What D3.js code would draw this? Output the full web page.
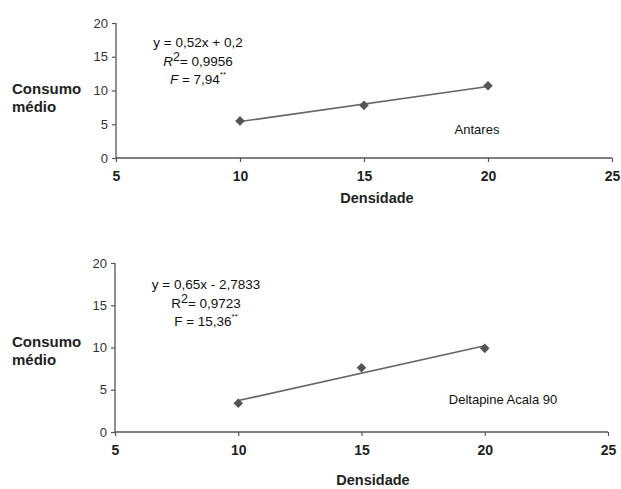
<!DOCTYPE html>
<html>
<head>
<meta charset="utf-8">
<script src="https://cdn.jsdelivr.net/npm/d3@7"></script>
<style>
  html, body { margin: 0; padding: 0; background: #fff; }
  svg { display: block; }
  text { font-family: "Liberation Sans", Arial, sans-serif; }
</style>
</head>
<body>
<svg id="chart" width="621" height="489"></svg>
<script>
// Plant density (x) and mean consumption (y) for the two cultivars
const densidade = [10, 15, 20];
const consumoAntares = [5.5, 7.8, 10.7];
const consumoDeltapine = [3.4, 7.6, 9.9];

// Fitted linear regressions: y = a*x + b
const slopes = [0.52, 0.65];
const intercepts = [0.2, -2.7833];
const r2Labels = ["0,9956", "0,9723"];
const fLabels = ["7,94", "15,36"];
const eqLabels = ["y = 0,52x + 0,2", "y = 0,65x - 2,7833"];
const cultivars = ["Antares", "Deltapine Acala 90"];

const xTicks = [5, 10, 15, 20, 25];
const yTicks = [0, 5, 10, 15, 20];

const svg = d3.select("#chart");
const axisColor = "#555";
const markColor = "#555";

const panels = [
  { values: consumoAntares, left: 116, right: 612, top: 23, bottom: 158,
    eqX: 198, eqY: 47, italic: true,
    labelX: 477, labelY: 134, titleY: 94, densY: 203, densX: 377 },
  { values: consumoDeltapine, left: 115, right: 608, top: 263, bottom: 432,
    eqX: 206, eqY: 289, italic: false,
    labelX: 503, labelY: 404, titleY: 347, densY: 485, densX: 373 }
];

panels.forEach((p, i) => {
  const x = d3.scaleLinear().domain([5, 25]).range([p.left, p.right]);
  const y = d3.scaleLinear().domain([0, 20]).range([p.bottom, p.top]);
  const g = svg.append("g");

  // y axis
  const yAxis = g.append("g")
    .attr("transform", `translate(${p.left},0)`)
    .call(d3.axisLeft(y).tickValues(yTicks).tickSize(4).tickPadding(4).tickFormat(d3.format("d")));
  yAxis.select(".domain").attr("stroke", axisColor).attr("stroke-width", 1.3)
    .attr("d", `M0,${p.top}V${p.bottom}`);
  yAxis.selectAll(".tick line").attr("stroke", axisColor).attr("stroke-width", 1.2);
  yAxis.selectAll(".tick text").attr("fill", "#333").style("font-size", "13px");

  // x axis
  const xAxis = g.append("g")
    .attr("transform", `translate(0,${p.bottom})`)
    .call(d3.axisBottom(x).tickValues(xTicks).tickSize(4).tickPadding(9).tickFormat(d3.format("d")));
  xAxis.select(".domain").attr("stroke", axisColor).attr("stroke-width", 1.3)
    .attr("d", `M${p.left},0H${p.right}`);
  xAxis.selectAll(".tick line").attr("stroke", axisColor).attr("stroke-width", 1.2);
  xAxis.selectAll(".tick text").attr("fill", "#222").style("font-size", "14px")
    .style("font-weight", "bold");

  // regression line over the observed density range
  const x0 = d3.min(densidade), x1 = d3.max(densidade);
  g.append("line")
    .attr("x1", x(x0)).attr("y1", y(slopes[i] * x0 + intercepts[i]))
    .attr("x2", x(x1)).attr("y2", y(slopes[i] * x1 + intercepts[i]))
    .attr("stroke", "#666").attr("stroke-width", 1.6);

  // observed points (diamonds)
  const diamond = d3.symbol().type(d3.symbolSquare).size(46);
  g.selectAll("path.pt").data(densidade.map((d, k) => [d, p.values[k]]))
    .join("path").attr("class", "pt")
    .attr("d", diamond)
    .attr("transform", d => `translate(${x(d[0])},${y(d[1])}) rotate(45)`)
    .attr("fill", markColor);

  // y title
  g.append("text").attr("x", 12).attr("y", p.titleY)
    .style("font-size", "15px").style("font-weight", "bold").attr("fill", "#222")
    .text("Consumo");
  g.append("text").attr("x", 12).attr("y", p.titleY + 18)
    .style("font-size", "15px").style("font-weight", "bold").attr("fill", "#222")
    .text("médio");

  // x title
  g.append("text").attr("x", p.densX).attr("y", p.densY)
    .attr("text-anchor", "middle")
    .style("font-size", "14.5px").style("font-weight", "bold").attr("fill", "#222")
    .text("Densidade");

  // cultivar label
  g.append("text").attr("x", p.labelX).attr("y", p.labelY)
    .attr("text-anchor", "middle").style("font-size", "13px").attr("fill", "#111")
    .text(cultivars[i]);

  // regression statistics
  const st = p.italic ? "italic" : "normal";
  g.append("text").attr("x", p.eqX).attr("y", p.eqY)
    .attr("text-anchor", "middle").style("font-size", "13.5px").attr("fill", "#111")
    .text(eqLabels[i]);

  const r2 = g.append("text").attr("x", p.eqX).attr("y", p.eqY + 18.5)
    .attr("text-anchor", "middle").style("font-size", "13.5px").attr("fill", "#111");
  r2.append("tspan").style("font-style", st).text("R");
  r2.append("tspan").attr("dy", -5).style("font-size", "12.5px").text("2");
  r2.append("tspan").attr("dy", 5).text("= " + r2Labels[i]);

  const f = g.append("text").attr("x", p.eqX).attr("y", p.eqY + 37)
    .attr("text-anchor", "middle").style("font-size", "13.5px").attr("fill", "#111");
  f.append("tspan").style("font-style", st).text("F");
  f.append("tspan").text(" = " + fLabels[i]);
  f.append("tspan").attr("dy", -7).style("font-size", "8px").text("**");
});
</script>
</body>
</html>
